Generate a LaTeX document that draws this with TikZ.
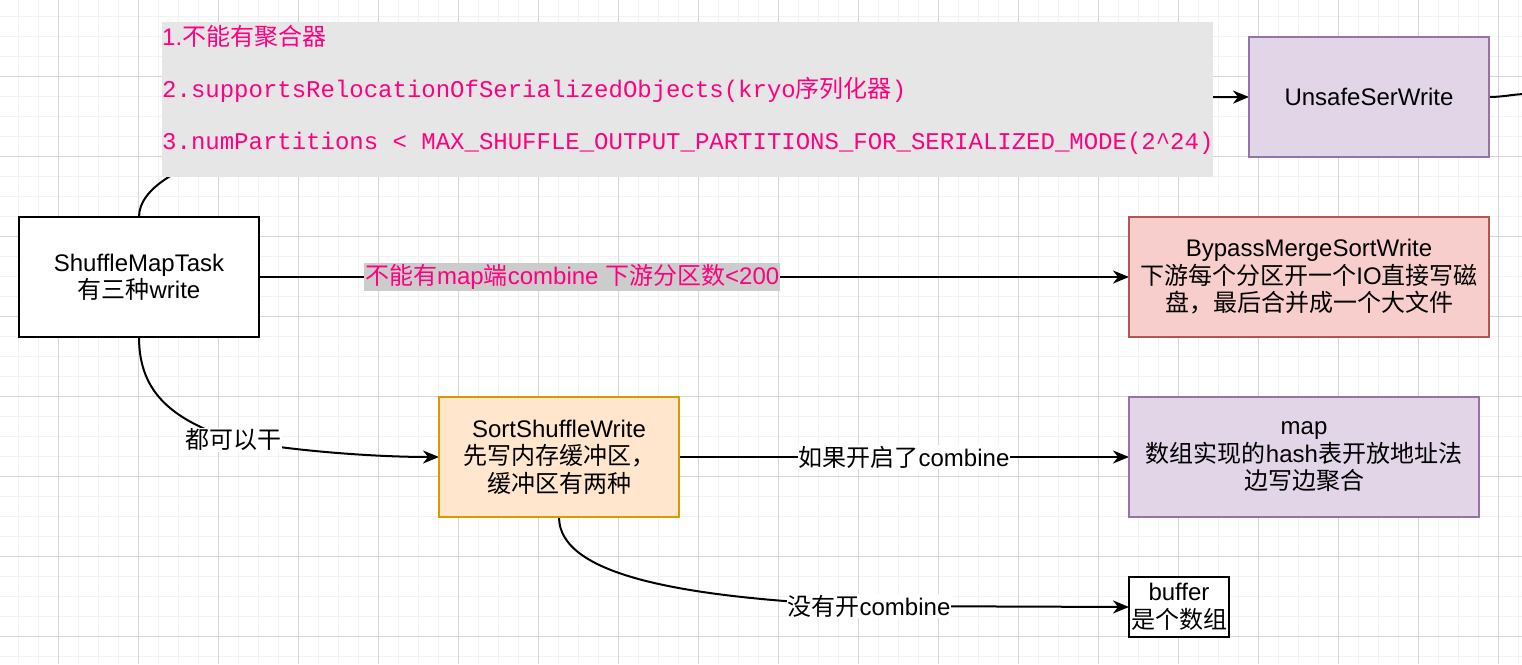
\documentclass[tikz,border=0pt]{standalone}
\usepackage{fontspec}
\setmainfont{Liberation Sans}
\newfontfamily\cjk{Noto Sans CJK SC}
\newfontfamily\codefont{Liberation Mono}
\newcommand{\zh}[1]{{\cjk #1}}
\usetikzlibrary{shapes,arrows.meta,positioning,backgrounds}
\definecolor{hotpink}{HTML}{FF0080}
\definecolor{condgray}{HTML}{E6E6E6}
\definecolor{labelgray}{HTML}{CCCCCC}
\definecolor{lilacfill}{HTML}{E1D5E7}
\definecolor{lilacline}{HTML}{9673A6}
\definecolor{rosefill}{HTML}{F8CECC}
\definecolor{roseline}{HTML}{B85450}
\definecolor{peachfill}{HTML}{FFE6CC}
\definecolor{peachline}{HTML}{D79B00}
\definecolor{gridminor}{HTML}{F2F2F2}
\definecolor{gridmajor}{HTML}{D6D6D6}

\begin{document}
\begin{tikzpicture}[
    x=1pt, y=-1pt,
    writer/.style={rectangle, draw, line width=2pt, outer sep=0pt, align=center, minimum width=240pt, minimum height=120pt, inner sep=2pt, font=\fontsize{24}{27.5}\selectfont},
    taskbox/.style={writer, draw=black, fill=white},
    lilacbox/.style={writer, draw=lilacline, fill=lilacfill},
    rosebox/.style={writer, draw=roseline, fill=rosefill},
    peachbox/.style={writer, draw=peachline, fill=peachfill},
    condtext/.style={align=left, inner sep=0pt, text=hotpink, font=\fontsize{24}{52}\selectfont},
    edgelabel/.style={fill=white, inner sep=1pt, font=\fontsize{24}{27.5}\selectfont},
    pinklabel/.style={edgelabel, fill=labelgray, text=hotpink},
    arrow/.style={-{Stealth[length=16pt, width=13pt, inset=5pt]}, line width=2pt},
    wire/.style={line width=2pt}
]
\useasboundingbox (0,0) rectangle (1522,664);

% Grid
\begin{scope}[on background layer]
  \foreach \gx in {18,38,...,1518} \draw[gridminor, line width=1pt] (\gx,0) -- (\gx,664);
  \foreach \gy in {16,36,...,656} \draw[gridminor, line width=1pt] (0,\gy) -- (1522,\gy);
  \foreach \gx in {58,138,...,1498} \draw[gridmajor, line width=1pt] (\gx,0) -- (\gx,664);
  \foreach \gy in {76,156,...,636} \draw[gridmajor, line width=1pt] (0,\gy) -- (1522,\gy);
\end{scope}

% Writers
\node[taskbox] (smt) at (139,277) {ShuffleMapTask\\\zh{有三种}write};
\node[rosebox, minimum width=360pt, right=870pt of smt] (bypass) {BypassMergeSortWrite\\\zh{下游每个分区开一个}IO\zh{直接写磁}\\\zh{盘，最后合并成一个大文件}};
\node[lilacbox, above left=60pt and 0pt of bypass.north east] (unsafe) {UnsafeSerWrite};
\node[peachbox] (sort) at (559,457) {SortShuffleWrite\\\zh{先写内存缓冲区，}\\\zh{缓冲区有两种}};
\node[lilacbox, minimum width=350pt, right=450pt of sort] (map) {map\\\zh{数组实现的}hash\zh{表开放地址法}\\\zh{边写边聚合}};
\node[taskbox, minimum width=100pt, minimum height=60pt, below right=60pt and 0pt of map.south west] (buffer) {buffer\\\zh{是个数组}};

% Conditions for the unsafe writer
\node[fill=condgray, minimum width=1051pt, minimum height=155pt, inner sep=0pt, anchor=north west] (cond) at (162,22) {};
\node[condtext, anchor=west, yshift=10pt] (condtxt) at (cond.west) {1.\zh{不能有聚合器}\\
{\codefont 2.supportsRelocationOfSerializedObjects(kryo}\zh{序列化器}{\codefont )}\\
{\codefont 3.numPartitions < MAX\_SHUFFLE\_OUTPUT\_PARTITIONS\_FOR\_SERIALIZED\_MODE(2\textasciicircum 24)}};

\node[edgelabel] (lblany) at (233,440) {\zh{都可以干}};
\node[edgelabel] (lblnocomb) at (869,606) {\zh{没有开}combine};
\coordinate (offright) at (1524,94);

% Arrows
\begin{scope}[on background layer]
\draw[arrow] (smt.north) .. controls (139,160) and (300,110) .. (cond.center) -- (unsafe.west);
\draw[wire] (unsafe.east) to[out=0, in=183] (offright);
\draw[arrow] (smt) -- node[pos=0.36, pinklabel] (nomapcomb) {\zh{不能有}map\zh{端}combine \zh{下游分区数}<200} (bypass);
\draw[arrow] (smt.south) .. controls (139,395) and (175,420) .. (lblany.center) .. controls (300,452) and (380,457) .. (sort.west);
\draw[arrow] (sort) -- node[edgelabel] (lblcomb) {\zh{如果开启了}combine} (map);
\draw[arrow] (sort.south) .. controls (559,575) and (680,598) .. (lblnocomb.center) -- (buffer.west);
\end{scope}

\end{tikzpicture}
\end{document}
